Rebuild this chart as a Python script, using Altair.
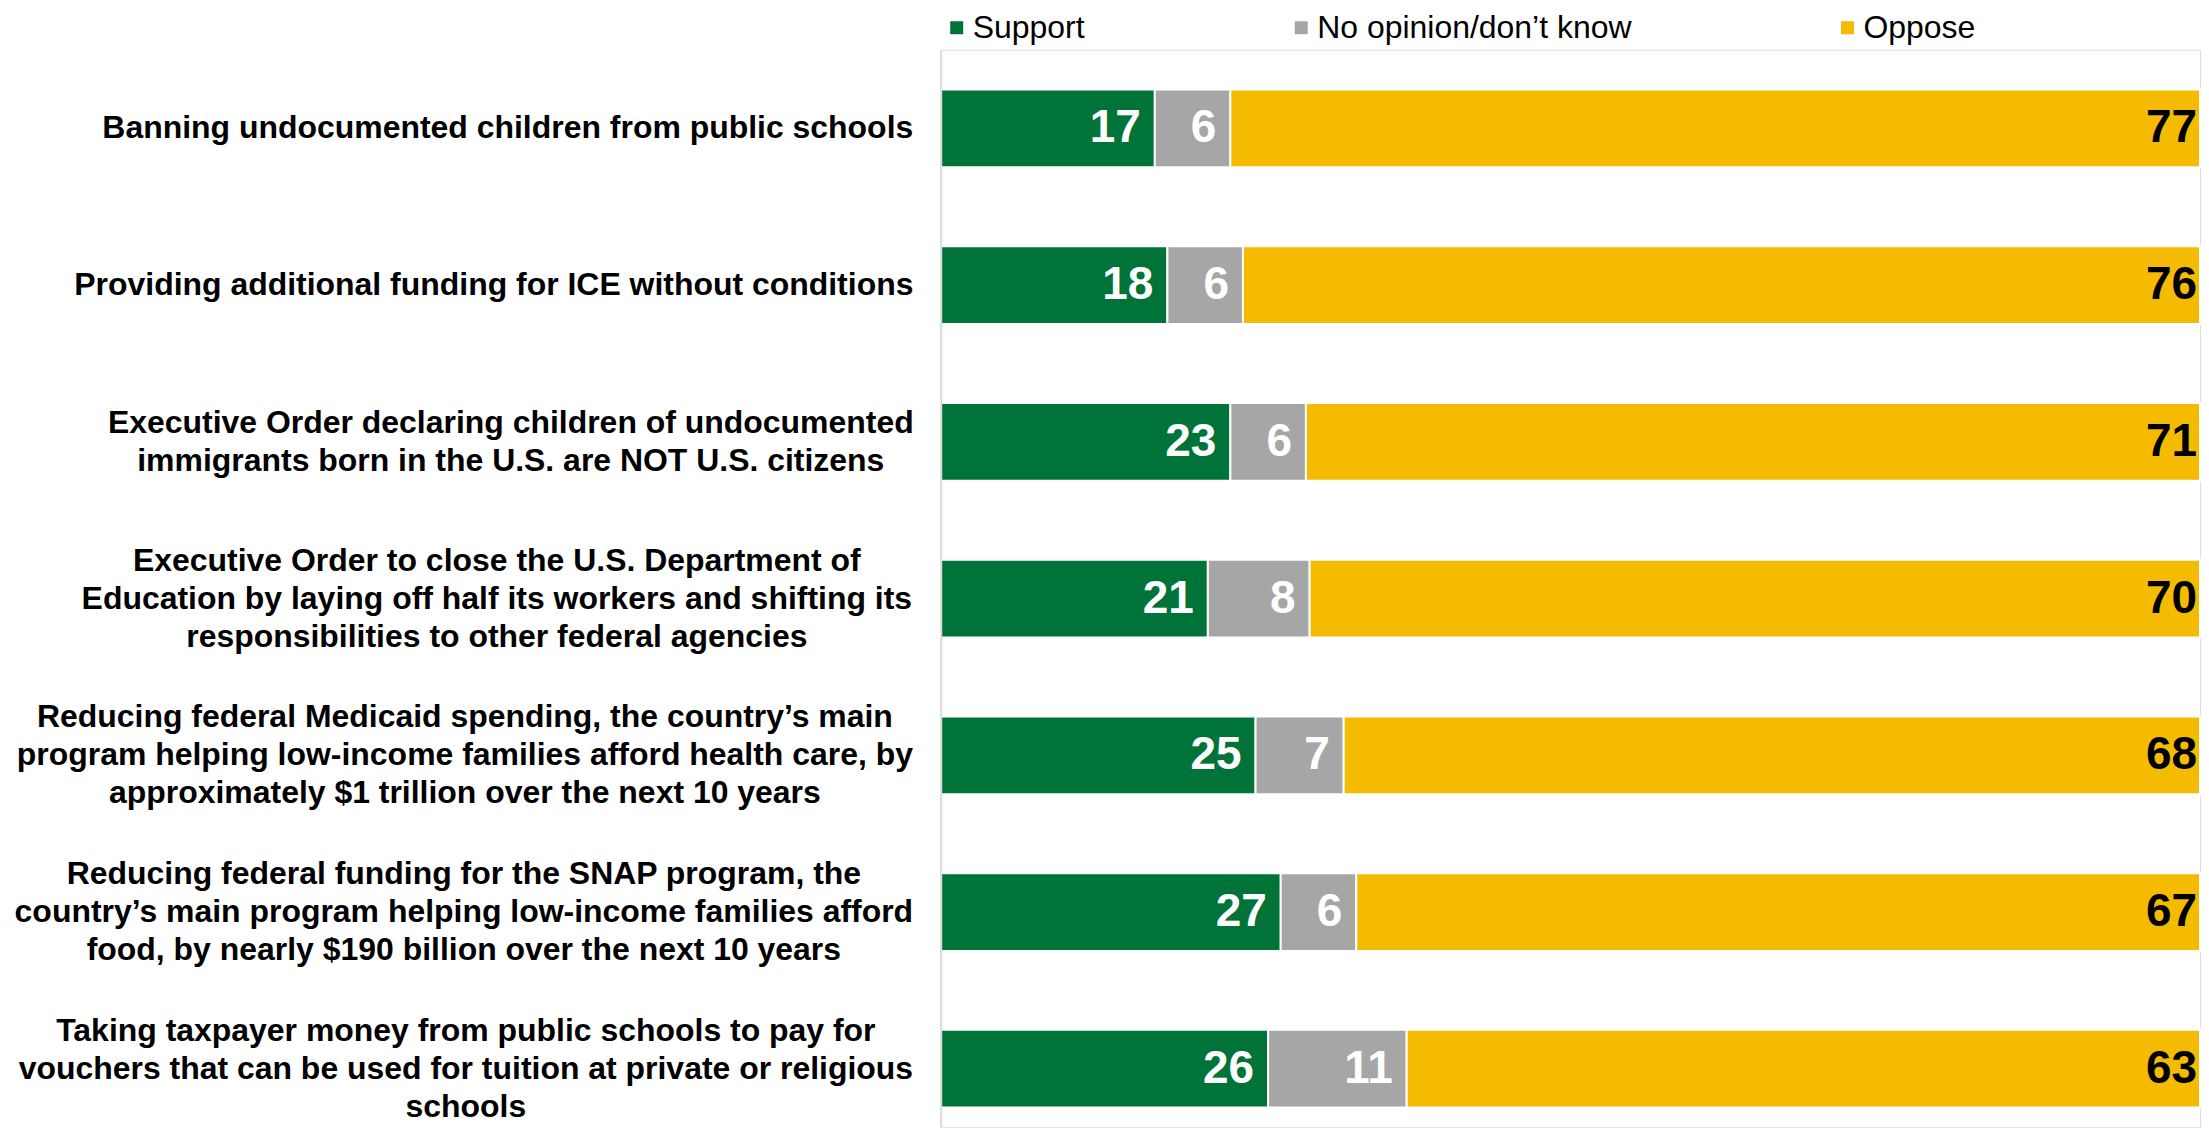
import altair as alt
import pandas as pd

categories = [
    "Banning undocumented children from public schools",
    "Providing additional funding for ICE without conditions",
    "Executive Order declaring children of undocumented|immigrants born in the U.S. are NOT U.S. citizens",
    "Executive Order to close the U.S. Department of|Education by laying off half its workers and shifting its|responsibilities to other federal agencies",
    "Reducing federal Medicaid spending, the country’s main|program helping low-income families afford health care, by|approximately $1 trillion over the next 10 years",
    "Reducing federal funding for the SNAP program, the|country’s main program helping low-income families afford|food, by nearly $190 billion over the next 10 years",
    "Taking taxpayer money from public schools to pay for|vouchers that can be used for tuition at private or religious|schools",
]
series = ["Support", "No opinion/don’t know", "Oppose"]
support = [17, 18, 23, 21, 25, 27, 26]
no_opinion = [6, 6, 6, 8, 7, 6, 11]
oppose = [77, 76, 71, 70, 68, 67, 63]
colors = ["#007338", "#A6A6A6", "#F5BB00"]

# distance of each centred label block from the axis line (px)
label_pad = [434, 448, 431, 445, 477, 478, 476]
LINE_H = 38

rows = []
for i, c in enumerate(categories):
    for j, (s, vals) in enumerate(zip(series, [support, no_opinion, oppose])):
        rows.append({"category": c, "series": s, "order": j, "value": vals[i]})
df = pd.DataFrame(rows)

pad_cond = {
    "condition": [
        {"test": "datum.value === '" + c + "'", "value": p}
        for c, p in zip(categories, label_pad)
    ],
    "value": 460,
}
offset_cond = {
    "condition": [
        {"test": "datum.value === '" + c + "'",
         "value": -(c.count("|")) * LINE_H / 2}
        for c in categories if "|" in c
    ],
    "value": 0,
}

base = alt.Chart(df).transform_joinaggregate(
    total="sum(value)", groupby=["category"]
).transform_window(
    cum="sum(value)", groupby=["category"], sort=[alt.SortField("order")],
    frame=[None, 0]
).transform_calculate(
    end="datum.cum / datum.total",
    start="(datum.cum - datum.value) / datum.total",
)

y_enc = alt.Y(
    "category:N",
    sort=categories,
    title=None,
    scale=alt.Scale(paddingInner=0.504, paddingOuter=0.19, align=0.67),
    axis=alt.Axis(
        labelExpr="split(datum.label, '|')",
        labelAlign="center",
        labelBaseline="middle",
        labelFont="Liberation Sans",
        labelFontSize=32,
        labelFontWeight="bold",
        labelColor="#000000",
        labelLineHeight=LINE_H,
        labelLimit=0,
        labelPadding=pad_cond,
        labelOffset=offset_cond,
        ticks=False,
        tickSize=0,
        domainColor="#D9D9D9",
        domainWidth=2,
        zindex=1,
    ),
)

x_scale = alt.Scale(domain=[0, 1], nice=False, zero=True)

bars = base.mark_bar(stroke="white", strokeWidth=2).encode(
    y=y_enc,
    x=alt.X("start:Q", scale=x_scale, axis=None),
    x2="end:Q",
    color=alt.Color(
        "series:N",
        scale=alt.Scale(domain=series, range=colors),
        sort=series,
        legend=alt.Legend(
            title=None,
            orient="top",
            direction="horizontal",
            labelFont="Liberation Sans",
            labelFontSize=32,
            labelColor="#000000",
            labelLimit=0,
            symbolType="square",
            symbolSize=169,
            symbolStrokeWidth=0,
            labelOffset=0,
            columnPadding=200,
            offset=6,
            padding=0,
        ),
    ),
    order=alt.Order("order:Q"),
)

inner_labels = base.transform_filter("datum.order < 2").mark_text(
    align="right", baseline="middle", dx=-14,
    font="Liberation Sans", fontSize=46, fontWeight="bold", color="white",
).encode(
    y=alt.Y("category:N", sort=categories),
    x=alt.X("end:Q", scale=x_scale),
    text=alt.Text("value:Q"),
)

end_labels = base.transform_filter("datum.order == 2").mark_text(
    align="right", baseline="middle", dx=-3,
    font="Liberation Sans", fontSize=46, fontWeight="bold", color="black",
).encode(
    y=alt.Y("category:N", sort=categories),
    x=alt.X("end:Q", scale=x_scale),
    text=alt.Text("value:Q"),
)

chart = alt.layer(bars, inner_labels, end_labels).properties(
    width=1261,
    height=1079,
    padding={"left": 5, "top": 3, "right": 0, "bottom": 0},
).configure_view(stroke=None).configure(font="Liberation Sans")

chart.save("out.html", embed_options={"renderer": "svg", "actions": False})
